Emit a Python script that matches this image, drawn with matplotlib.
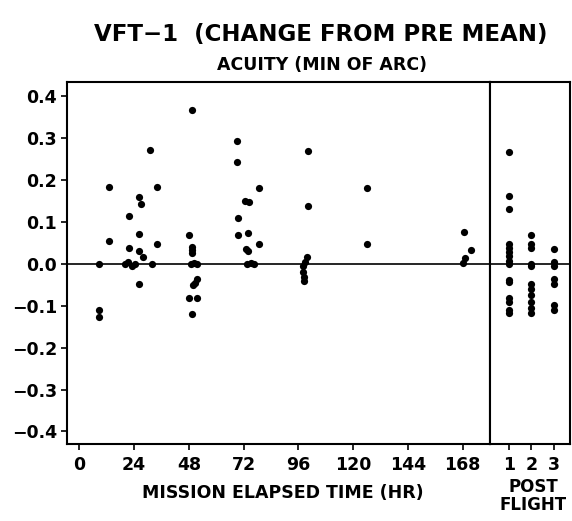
import numpy as np
import matplotlib
matplotlib.use("Agg")
import matplotlib.pyplot as plt

# in-flight points: mission elapsed time (hr), change in acuity (min of arc)
hr = [8.8, 8.8, 8.8, 12.9, 12.9, 21.9, 21.9, 20.0, 21.5, 23.0, 24.2,
      26.0, 26.9, 26.0, 26.0, 27.8, 26.0, 31.0, 31.9, 33.9, 33.9,
      49.2, 47.9, 49.2, 49.2, 49.2, 49.0, 50.2, 51.4, 51.4, 50.6, 49.8,
      48.2, 51.4, 49.2,
      69.0, 69.0, 78.9, 72.7, 74.2, 69.7, 69.7, 73.8, 73.0, 73.8, 78.7,
      73.5, 75.1, 76.5,
      100.2, 100.2, 99.6, 98.9, 97.9, 97.9, 98.5, 98.5,
      126.2, 126.2,
      168.6, 171.5, 169.2, 168.3]
acuity = [0.0, -0.110, -0.126, 0.183, 0.054, 0.114, 0.039, 0.0, 0.005, -0.004, 0.0,
          0.159, 0.143, 0.071, 0.031, 0.017, -0.048, 0.272, 0.0, 0.183, 0.048,
          0.367, 0.070, 0.040, 0.034, 0.026, 0.0, 0.002, 0.0, -0.037, -0.045, -0.051,
          -0.082, -0.082, -0.119,
          0.293, 0.243, 0.182, 0.151, 0.147, 0.109, 0.069, 0.073, 0.035, 0.031, 0.048,
          0.0, 0.003, 0.0,
          0.270, 0.138, 0.017, 0.005, -0.004, -0.019, -0.031, -0.040,
          0.182, 0.048,
          0.077, 0.034, 0.015, 0.002]

# postflight points: day after landing
post_day = [1, 1, 1, 1, 1, 1, 1, 1, 1, 1, 1, 1, 1, 1, 1,
            2, 2, 2, 2, 2, 2, 2, 2, 2, 2, 2,
            3, 3, 3, 3, 3, 3, 3]
post_acuity = [0.268, 0.162, 0.132, 0.047, 0.038, 0.028, 0.018, 0.008, 0.0,
               -0.039, -0.044, -0.082, -0.090, -0.110, -0.118,
               0.068, 0.048, 0.037, 0.0, -0.047, -0.060, -0.075, -0.090, -0.105, -0.118, -0.005,
               0.036, 0.005, -0.005, -0.035, -0.047, -0.098, -0.110]

hr_ticks = [0, 24, 48, 72, 96, 120, 144, 168]
day_ticks = [1, 2, 3]
y_ticks = [0.4, 0.3, 0.2, 0.1, 0.0, -0.1, -0.2, -0.3, -0.4]

plt.rcParams['font.family'] = 'DejaVu Sans'
plt.rcParams['font.weight'] = 'bold'

fig = plt.figure(figsize=(5.72, 5.21), dpi=100)
ax = fig.add_axes([0.1177, 0.1478, 0.8575 - 0.1177, 0.8432 - 0.1478])
ax2 = fig.add_axes([0.8575, 0.1478, 0.9965 - 0.8575, 0.8432 - 0.1478], sharey=ax)

ms = 27
ax.scatter(hr, acuity, s=ms, color='black', linewidths=0, zorder=3)
ax2.scatter(post_day, post_acuity, s=ms, color='black', linewidths=0, zorder=3)

for a in (ax, ax2):
    a.axhline(0, color='black', lw=1.2, zorder=2)
    for sp in a.spines.values():
        sp.set_linewidth(1.5)
    a.tick_params(direction='out', length=4, width=1.2, labelsize=12.5)
    a.tick_params(axis='x', pad=5)

ax.set_xlim(-5.3, 180.2)
ax.set_ylim(-0.43, 0.435)
ax2.set_xlim(0.18, 3.71)

ax.set_xticks(hr_ticks)
ax.set_xticklabels([str(t) for t in hr_ticks], fontweight='bold')
ax.set_yticks(y_ticks)
ax.set_yticklabels([('%.1f' % v).replace('-', '\u2212') if v != 0 else '0.0' for v in y_ticks],
                   fontweight='bold')
ax2.set_xticks(day_ticks)
ax2.set_xticklabels([str(d) for d in day_ticks], fontweight='bold')
ax2.tick_params(axis='y', left=False, labelleft=False)

fig.text(0.56, 0.933, 'VFT\u22121  (CHANGE FROM PRE MEAN)', ha='center', va='center',
         fontsize=16.5, fontweight='bold')
fig.text(0.563, 0.875, 'ACUITY (MIN OF ARC)', ha='center', va='center',
         fontsize=12.5, fontweight='bold')
fig.text(0.495, 0.054, 'MISSION ELAPSED TIME (HR)', ha='center', va='center',
         fontsize=12.5, fontweight='bold')
fig.text(0.932, 0.048, 'POST\nFLIGHT', ha='center', va='center',
         fontsize=12, fontweight='bold', linespacing=0.95)

fig.savefig('out.png', dpi=100)
